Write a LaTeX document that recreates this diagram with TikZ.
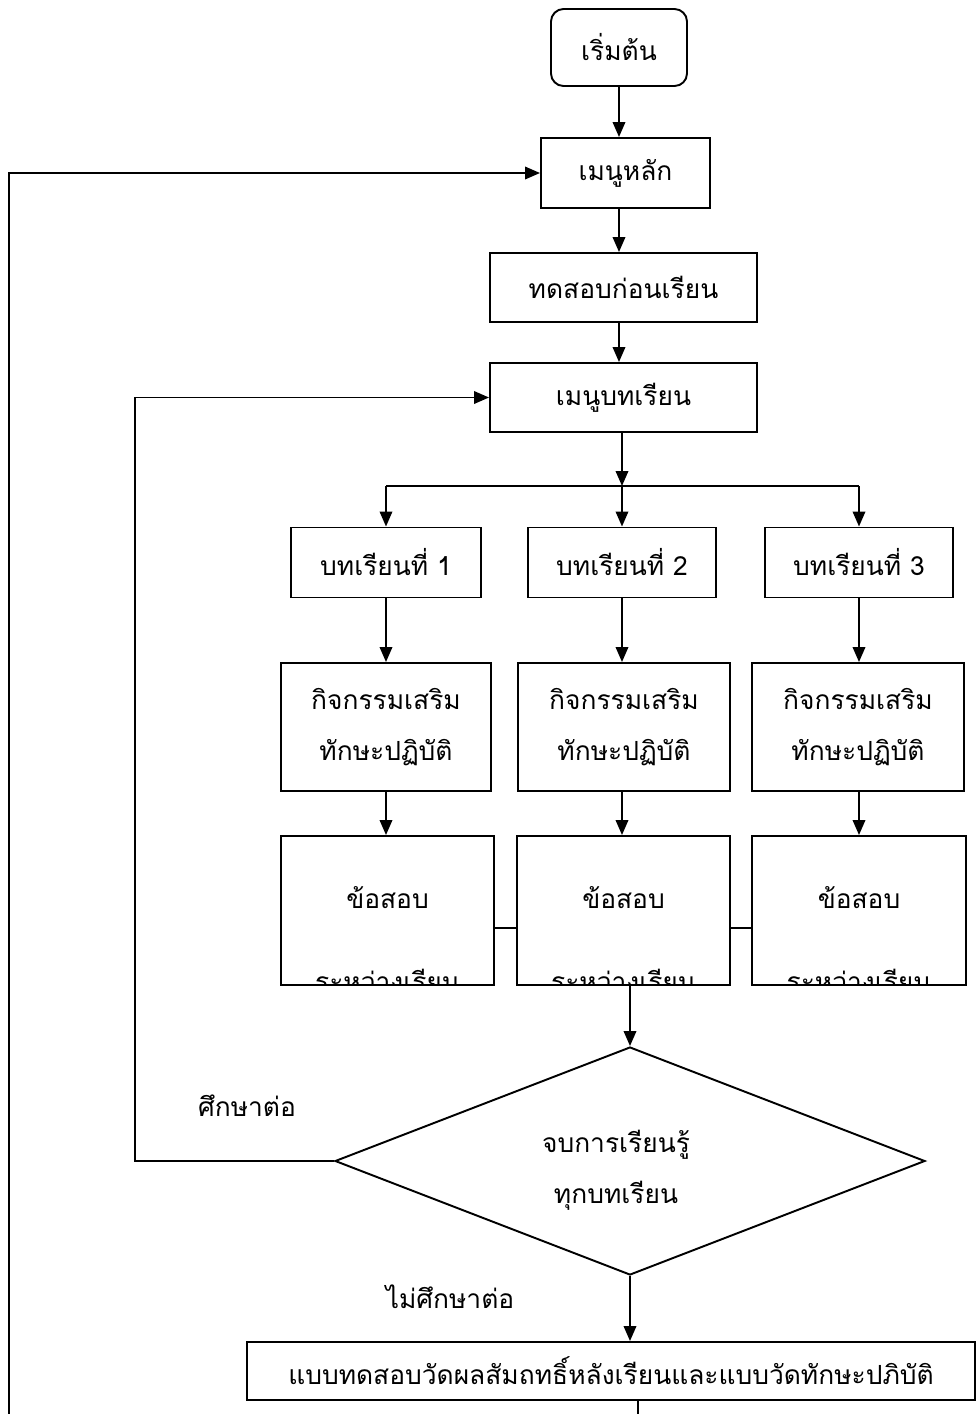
\documentclass[tikz,border=0pt]{standalone}
\usepackage{fontspec}
\newfontfamily\thaifont[Script=Thai]{Loma}
\usetikzlibrary{arrows.meta,shapes.geometric,positioning}
\tikzset{
  wh/.style 2 args={minimum width=#1*0.02cm,minimum height=#2*0.02cm},
  thtext/.style={font=\thaifont\fontsize{15}{29}\selectfont,align=center},
  box/.style={draw,line width=1.1pt,inner sep=0pt,thtext},
  startbox/.style={box,rounded corners=0.25cm},
  decision/.style={box,diamond},
  ln/.style={line width=1.1pt},
  arr/.style={ln,-{Triangle[length=0.3cm,width=0.25cm]}}
}
\begin{document}
\begin{tikzpicture}[x=0.02cm,y=-0.02cm]
  \useasboundingbox (0,0) rectangle (977,1414);
  % main column
  \node[startbox,wh={136}{77}] (start) at (619,47.5) {เริ่มต้น};
  \node[box,wh={169}{70}] (mainmenu) at (625.5,173) {เมนูหลัก};
  \node[box,wh={267}{69}] (pretest) at (623.5,287.5) {ทดสอบก่อนเรียน};
  \node[box,wh={267}{69}] (lessonmenu) at (623.5,397.5) {เมนูบทเรียน};
  % lessons
  \node[box,wh={190}{70}] (lesson1) at (386,562.5) {บทเรียนที่ 1};
  \node[box,wh={188}{70}] (lesson2) at (622,562.5) {บทเรียนที่ 2};
  \node[box,wh={188}{70}] (lesson3) at (859,562.5) {บทเรียนที่ 3};
  \node[box,wh={210}{128}] (act1) at (386,727) {กิจกรรมเสริม\\ทักษะปฏิบัติ};
  \node[box,wh={212}{128}] (act2) at (624,727) {กิจกรรมเสริม\\ทักษะปฏิบัติ};
  \node[box,wh={212}{128}] (act3) at (858,727) {กิจกรรมเสริม\\ทักษะปฏิบัติ};
  \node[box,wh={213}{149}] (quiz1) at (387.5,910.5) {};
  \node[box,wh={213}{149}] (quiz2) at (623.5,910.5) {};
  \node[box,wh={214}{149}] (quiz3) at (859,910.5) {};
  \node[decision,wh={590}{228}] (finish) at (630,1161) {};
  \node[thtext] (finishtxt) at (616,1170) {จบการเรียนรู้\\ทุกบทเรียน};
  \node[box,wh={728}{58}] (posttest) at (611,1371) {แบบทดสอบวัดผลสัมถทธิ์หลังเรียนและแบบวัดทักษะปภิบัติ};
  % labels
  \node[thtext] (golbl) at (247,1106) {ศึกษาต่อ};
  \node[thtext] (stoplbl) at (450,1297) {ไม่ศึกษาต่อ};
  \coordinate (fork) at (622,486);
  \coordinate (qline) at (0,928);
  \coordinate (innerx) at (135,0);
  \coordinate (outerend) at (9,1414);
  \coordinate (tailend) at (638,1414);
  % quiz texts, second line cut by the box
  \foreach \i in {1,2,3}{
    \node[thtext] (quiztxt\i) at (quiz\i.center |- 0,898) {ข้อสอบ};
    \begin{scope}
      \clip (quiz\i.south west) rectangle (quiz\i.north east);
      \node[thtext,anchor=base] (quizsub\i) at (quiz\i.center |- 0,991) {ระหว่างเรียน};
    \end{scope}
  }
  % connectors
  \draw[arr] (start.south) -- (start.south |- mainmenu.north);
  \draw[arr] (mainmenu.south -| start.south) -- (start.south |- pretest.north);
  \draw[arr] (pretest.south -| start.south) -- (start.south |- lessonmenu.north);
  \draw[arr] (lessonmenu.south -| fork) -- (fork);
  \draw[ln] (lesson1.north |- fork) -- (lesson3.north |- fork);
  \foreach \i in {1,2,3}{
    \draw[arr] (lesson\i.north |- fork) -- (lesson\i.north);
    \draw[arr] (lesson\i.south) -- (lesson\i.south |- act\i.north);
    \draw[arr] (act\i.south -| lesson\i.south) -- (lesson\i.south |- quiz\i.north);
  }
  \draw[ln] (quiz1.east |- qline) -- (quiz2.west |- qline);
  \draw[ln] (quiz2.east |- qline) -- (quiz3.west |- qline);
  \draw[arr] (finish.north |- quiz2.south) -- (finish.north);
  \draw[arr] (finish.west) -- (innerx |- finish.west) |- (lessonmenu.west);
  \draw[arr] (finish.south) -- (finish.south |- posttest.north);
  \draw[ln] (posttest.south -| tailend) -- (tailend);
  \draw[arr] (outerend) |- (mainmenu.west);
\end{tikzpicture}
\end{document}
